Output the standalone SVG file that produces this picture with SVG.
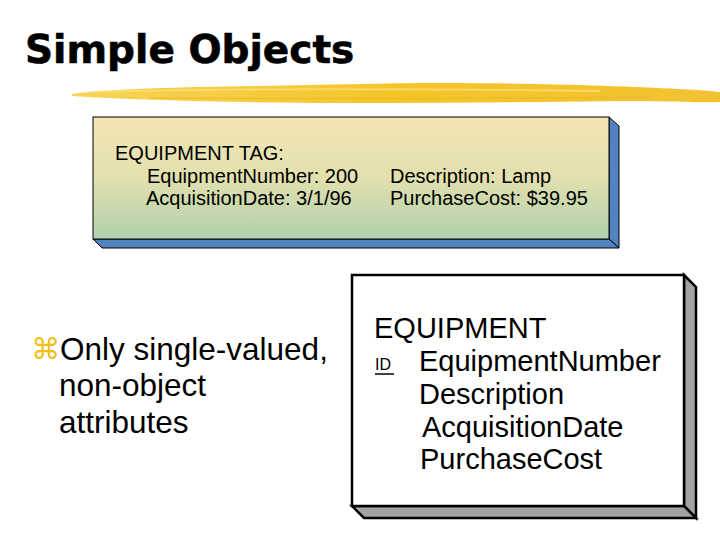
<svg xmlns="http://www.w3.org/2000/svg" width="720" height="540" viewBox="0 0 720 540">
<defs>
<linearGradient id="tagGrad" x1="0" y1="0" x2="0" y2="1">
<stop offset="0" stop-color="#f3e6b3"/>
<stop offset="0.5" stop-color="#e2e0ae"/>
<stop offset="1" stop-color="#b0d0ae"/>
</linearGradient>
<linearGradient id="brush" x1="0" y1="0" x2="1" y2="0">
<stop offset="0" stop-color="#f7d458"/>
<stop offset="0.5" stop-color="#f4c52a"/>
<stop offset="1" stop-color="#f2c232"/>
</linearGradient>
<style>
.t{font-family:"Liberation Sans",Arial,sans-serif;fill:#000}
.tag{font-size:20px}
.ent{font-size:29px}
.bul{font-size:31.5px}
.edge{stroke:#000;stroke-linejoin:miter}
</style>
</defs>
<rect width="720" height="540" fill="#fff"/>
<g id="title">
<text x="25" y="63" font-family="'DejaVu Sans',sans-serif" font-weight="bold" font-size="39" fill="#000" stroke="#000" stroke-width="0.6">Simple Objects</text>
<path d="M72,94 C110,89 180,87 260,86 C330,85 380,83 440,83 C540,83 620,86 680,89 C700,90 712,91 720,92 L720,102 C700,103 670,101 620,101 C540,102 460,103 380,103 C300,103 220,102 160,100 C120,99 90,97 72,96 Z" fill="url(#brush)"/>
<path d="M90,92 C200,89 400,88 600,91" stroke="#fbe07a" stroke-width="2" fill="none" opacity="0.7"/>
<path d="M150,98 C300,99 450,99 650,97" stroke="#e8b820" stroke-width="1.5" fill="none" opacity="0.6"/>
</g>
<g id="equipment-tag">
<polygon points="609,117 619,126 619,248 609,239" fill="#5282c0" class="edge" stroke-width="1"/>
<polygon points="93,239 609,239 619,248 102,248" fill="#5282c0" class="edge" stroke-width="1"/>
<rect x="93" y="117" width="516" height="122" fill="url(#tagGrad)" class="edge" stroke-width="1"/>
<text class="t tag" x="115" y="160">EQUIPMENT TAG:</text>
<text class="t tag" x="147" y="183">EquipmentNumber: 200</text>
<text class="t tag" x="146" y="205">AcquisitionDate: 3/1/96</text>
<text class="t tag" x="390" y="183">Description: Lamp</text>
<text class="t tag" x="390" y="205">PurchaseCost: $39.95</text>
</g>
<g id="bullet">
<text x="31" y="359" font-family="'DejaVu Sans',sans-serif" font-size="29" fill="#f0c020">⌘</text>
<text class="t bul" x="60" y="360">Only single-valued,</text>
<text class="t bul" x="59" y="396">non-object</text>
<text class="t bul" x="59" y="433">attributes</text>
</g>
<g id="equipment-entity">
<polygon points="684,275 696,287 696,518 684,506" fill="#a3a3a3" class="edge" stroke-width="2.5"/>
<polygon points="352,506 684,506 696,518 364,518" fill="#a3a3a3" class="edge" stroke-width="2.5"/>
<rect x="352" y="275" width="332" height="231" fill="#fff" class="edge" stroke-width="2.5"/>
<text class="t ent" x="374" y="338">EQUIPMENT</text>
<text class="t" x="375" y="370" font-size="16">ID</text>
<line x1="375" y1="374" x2="394" y2="374" stroke="#000" stroke-width="1.5"/>
<text class="t ent" x="419" y="371">EquipmentNumber</text>
<text class="t ent" x="419" y="404">Description</text>
<text class="t ent" x="422" y="437">AcquisitionDate</text>
<text class="t ent" x="420" y="469">PurchaseCost</text>
</g>
</svg>
